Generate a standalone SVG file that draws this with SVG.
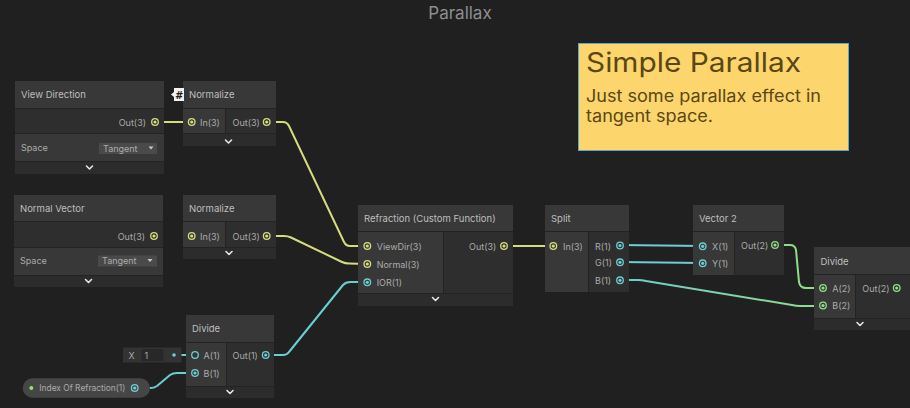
<svg xmlns="http://www.w3.org/2000/svg" width="910" height="408" viewBox="0 0 910 408">
<defs>
<style>
.hdr{fill:#383838}
.inc{fill:#383838}
.outc{fill:#2e2e2e}
.prop{fill:#383838}
.chev{fill:#2c2c2c}
.sep{fill:#232323}
.t{font-family:Inter,"Liberation Sans",sans-serif;font-size:9.5px;fill:#bebebe}
.p{font-family:Inter,"Liberation Sans",sans-serif;font-size:9px;fill:#ababab}
.cv{fill:none;stroke:#e6e6e6;stroke-width:1.6;stroke-linecap:round;stroke-linejoin:round}
.w{fill:none;stroke-width:2;stroke-linecap:round;stroke-linejoin:round}
.y{stroke:#d6db7e}
.c{stroke:#6ccdd2}
.g{stroke:#8fdd88}
.py{fill:none;stroke:#d6db7e;stroke-width:1.3}
.pc{fill:none;stroke:#6ccdd2;stroke-width:1.3}
.pg{fill:none;stroke:#8fdd88;stroke-width:1.3}
.dy{fill:#d6db7e}
.dc{fill:#6ccdd2}
.dg{fill:#8fdd88}
.dd{fill:#4a4a4a}
</style>
<linearGradient id="bg" gradientUnits="userSpaceOnUse" x1="620" y1="0" x2="823" y2="0">
<stop offset="0" stop-color="#6ccdd2"/>
<stop offset="1" stop-color="#8fdd88"/>
</linearGradient>
</defs>
<rect width="910" height="408" fill="#202020"/>
<text x="460" y="19" text-anchor="middle" font-family="Inter,'Liberation Sans',sans-serif" font-size="17" fill="#8e8e8e">Parallax</text>

<g id="connectors">
<path class="w y" d="M155,122 L192,122"/>
<path class="w y" d="M267,122 L283,122 Q287,122 289,126 L344,242 Q346,246 350,246 L367,246"/>
<path class="w y" d="M267,236 L284,236 Q288,236 291,237.5 L342,262 Q345,263.5 349,263.5 L367,264"/>
<path class="w c" d="M266,355 L283,355 Q287,355 289,352 L343,285 Q346,282 350,282 L367,282"/>
<path class="w y" d="M504,246 L553,246"/>
<path class="w c" d="M620,245 L703,246"/>
<path class="w c" d="M620,262 L703,263"/>
<path class="w" stroke="url(#bg)" d="M620,280 L638,280 Q642,280 646,281 L792,305 Q796,306 800,306 L823,306"/>
<path class="w g" d="M775,245 L790,245 Q795,245 796,250 L799,282 Q800,288 806,288 L823,288"/>
<path class="w c" d="M174,355 L195,355"/>
<path class="w c" d="M135,388 L150,388 Q154,388 157,386 L170,375 Q173,373 177,373 L195,373"/>
<path class="w g" d="M897,288 L912,288"/>
</g>

<g id="node-view-direction">
<rect x="15" y="81" width="149" height="93" class="sep"/>
<rect x="15" y="81" width="149" height="27" class="hdr"/>
<rect x="15" y="109" width="149" height="24" class="outc"/>
<rect x="15" y="134" width="149" height="27" class="prop"/>
<rect x="15" y="162" width="149" height="12" class="chev"/>
<text x="21" y="98" class="t">View Direction</text>
<text x="146" y="125.5" class="p" text-anchor="end">Out(3)</text>
<circle cx="155" cy="122" r="3.3" class="py"/><circle cx="155" cy="122" r="1.6" class="dy"/>
<text x="21" y="150.5" class="p">Space</text>
<rect x="99" y="143" width="58" height="11" class="dd"/>
<text x="103" y="151.5" class="p" fill="#c8c8c8">Tangent</text>
<path d="M148.5,146.5 L153.5,146.5 L151,149.5 Z" fill="#c8c8c8"/>
<path d="M86.5,166 L89.5,169 L92.5,166" class="cv"/>
</g>

<g id="node-normalize-1">
<rect x="183" y="81" width="93" height="65" class="sep"/>
<rect x="183" y="81" width="93" height="27" class="hdr"/>
<rect x="183" y="109" width="42" height="24" class="inc"/>
<rect x="226" y="109" width="50" height="24" class="outc"/>
<rect x="183" y="134" width="93" height="12" class="chev"/>
<text x="189" y="98" class="t">Normalize</text>
<circle cx="191.7" cy="122" r="3.3" class="py"/><circle cx="191.7" cy="122" r="1.6" class="dy"/>
<text x="200" y="125.5" class="p">In(3)</text>
<text x="232.5" y="125.5" class="p">Out(3)</text>
<circle cx="266.7" cy="122" r="3.3" class="py"/><circle cx="266.7" cy="122" r="1.6" class="dy"/>
<path d="M225.5,140 L228.5,143 L231.5,140" class="cv"/>
<path d="M174,88 L184,88 L184,101 L174,101 L174,97 L171,94.5 L174,92 Z" fill="#f2f2f2"/>
<text x="178.5" y="98.5" text-anchor="middle" font-family="'DejaVu Sans',sans-serif" font-size="10" font-weight="bold" font-style="italic" fill="#1e1e1e">#</text>
</g>

<g id="node-normal-vector">
<rect x="14" y="195" width="149" height="92" class="sep"/>
<rect x="14" y="195" width="149" height="26" class="hdr"/>
<rect x="14" y="222" width="149" height="25" class="outc"/>
<rect x="14" y="248" width="149" height="27" class="prop"/>
<rect x="14" y="276" width="149" height="11" class="chev"/>
<text x="20" y="211.5" class="t">Normal Vector</text>
<text x="145" y="239.5" class="p" text-anchor="end">Out(3)</text>
<circle cx="154" cy="236" r="3.3" class="py"/><circle cx="154" cy="236" r="1.6" class="dy"/>
<text x="20" y="264" class="p">Space</text>
<rect x="98" y="255.5" width="59" height="11" class="dd"/>
<text x="102" y="264" class="p" fill="#c8c8c8">Tangent</text>
<path d="M147.5,259 L152.5,259 L150,262 Z" fill="#c8c8c8"/>
<path d="M85.5,279.5 L88.5,282.5 L91.5,279.5" class="cv"/>
</g>

<g id="node-normalize-2">
<rect x="183" y="195" width="93" height="64" class="sep"/>
<rect x="183" y="195" width="93" height="26" class="hdr"/>
<rect x="183" y="222" width="42" height="25" class="inc"/>
<rect x="226" y="222" width="50" height="25" class="outc"/>
<rect x="183" y="248" width="93" height="11" class="chev"/>
<text x="189" y="211.5" class="t">Normalize</text>
<circle cx="191.7" cy="236" r="3.3" class="py"/><circle cx="191.7" cy="236" r="1.6" class="dy"/>
<text x="200" y="239.5" class="p">In(3)</text>
<text x="232.5" y="239.5" class="p">Out(3)</text>
<circle cx="266.7" cy="236" r="3.3" class="py"/><circle cx="266.7" cy="236" r="1.6" class="dy"/>
<path d="M226,251.5 L229,254.5 L232,251.5" class="cv"/>
</g>

<g id="node-divide-1">
<rect x="186" y="315" width="88" height="83" class="sep"/>
<rect x="186" y="315" width="88" height="27" class="hdr"/>
<rect x="186" y="343" width="40" height="43" class="inc"/>
<rect x="227" y="343" width="47" height="43" class="outc"/>
<rect x="186" y="387" width="88" height="11" class="chev"/>
<text x="192" y="332" class="t">Divide</text>
<circle cx="195" cy="355" r="3.3" fill="none" stroke="#6ccdd2" stroke-width="1.3"/>
<text x="203.5" y="358.5" class="p">A(1)</text>
<circle cx="195" cy="373" r="3.3" class="pc"/><circle cx="195" cy="373" r="1.6" class="dc"/>
<text x="203.5" y="376.5" class="p">B(1)</text>
<text x="232.5" y="358.5" class="p">Out(1)</text>
<circle cx="265.7" cy="355" r="3.3" class="pc"/><circle cx="265.7" cy="355" r="1.6" class="dc"/>
<path d="M227,390.5 L230,393.5 L233,390.5" class="cv"/>
</g>

<g id="inline-a">
<rect x="123" y="347.5" width="58.5" height="15" fill="#333333"/>
<text x="128.5" y="359" class="p" font-size="10" fill="#bdbdbd">X</text>
<rect x="141.5" y="349" width="22" height="12" rx="1.5" fill="#282828"/>
<text x="144.5" y="359" class="p" font-size="10" fill="#d0d0d0">1</text>
<circle cx="174" cy="355" r="1.8" class="dc"/>
</g>

<g id="node-index-of-refraction">
<rect x="22.7" y="378.3" width="127.3" height="19.4" rx="9.7" fill="#464646"/>
<circle cx="31.3" cy="388" r="2" fill="#8ee36f"/>
<text x="39.3" y="391.3" class="p" fill="#b8b8b8" textLength="86" lengthAdjust="spacingAndGlyphs">Index Of Refraction(1)</text>
<circle cx="134.7" cy="388" r="3.3" class="pc"/><circle cx="134.7" cy="388" r="1.6" class="dc"/>
</g>

<g id="node-refraction">
<rect x="358" y="205" width="155" height="101" class="sep"/>
<rect x="358" y="205" width="155" height="26" class="hdr"/>
<rect x="358" y="232" width="85" height="61" class="inc"/>
<rect x="444" y="232" width="69" height="61" class="outc"/>
<rect x="358" y="294" width="155" height="12" class="chev"/>
<text x="364" y="221.5" class="t">Refraction (Custom Function)</text>
<circle cx="367.3" cy="246" r="3.3" class="py"/><circle cx="367.3" cy="246" r="1.6" class="dy"/>
<text x="376.7" y="249.5" class="p">ViewDir(3)</text>
<circle cx="367.3" cy="264" r="3.3" class="py"/><circle cx="367.3" cy="264" r="1.6" class="dy"/>
<text x="376.7" y="267.5" class="p">Normal(3)</text>
<circle cx="367.3" cy="282.3" r="3.3" class="pc"/><circle cx="367.3" cy="282.3" r="1.6" class="dc"/>
<text x="376.7" y="285.8" class="p">IOR(1)</text>
<text x="469" y="249.5" class="p">Out(3)</text>
<circle cx="504" cy="246" r="3.3" class="py"/><circle cx="504" cy="246" r="1.6" class="dy"/>
<path d="M432.5,297.5 L435.5,300.5 L438.5,297.5" class="cv"/>
</g>

<g id="node-split">
<rect x="545" y="205" width="84" height="87" class="sep"/>
<rect x="545" y="205" width="84" height="26" class="hdr"/>
<rect x="545" y="232" width="43" height="60" class="inc"/>
<rect x="589" y="232" width="40" height="60" class="outc"/>
<text x="551" y="221.5" class="t">Split</text>
<circle cx="553.3" cy="246" r="3.3" class="py"/><circle cx="553.3" cy="246" r="1.6" class="dy"/>
<text x="563" y="249.5" class="p">In(3)</text>
<text x="595" y="249.5" class="p">R(1)</text>
<circle cx="620" cy="245.5" r="3.3" class="pc"/><circle cx="620" cy="245.5" r="1.6" class="dc"/>
<text x="595" y="266" class="p">G(1)</text>
<circle cx="620" cy="262.3" r="3.3" class="pc"/><circle cx="620" cy="262.3" r="1.6" class="dc"/>
<text x="595" y="284" class="p">B(1)</text>
<circle cx="620" cy="280.3" r="3.3" class="pc"/><circle cx="620" cy="280.3" r="1.6" class="dc"/>
</g>

<g id="node-vector2">
<rect x="693" y="205" width="91" height="70" class="sep"/>
<rect x="693" y="205" width="91" height="26" class="hdr"/>
<rect x="693" y="232" width="41" height="43" class="inc"/>
<rect x="735" y="232" width="49" height="43" class="outc"/>
<text x="699" y="221.5" class="t">Vector 2</text>
<circle cx="702.7" cy="246.3" r="3.3" class="pc"/><circle cx="702.7" cy="246.3" r="1.6" class="dc"/>
<text x="712" y="249.8" class="p">X(1)</text>
<circle cx="702.7" cy="263.3" r="3.3" class="pc"/><circle cx="702.7" cy="263.3" r="1.6" class="dc"/>
<text x="712" y="266.8" class="p">Y(1)</text>
<text x="741" y="248.5" class="p">Out(2)</text>
<circle cx="775" cy="245" r="3.3" class="pg"/><circle cx="775" cy="245" r="1.6" class="dg"/>
</g>

<g id="node-divide-2">
<rect x="814" y="247" width="100" height="83" class="sep"/>
<rect x="814" y="247" width="100" height="27" class="hdr"/>
<rect x="814" y="275" width="41" height="43" class="inc"/>
<rect x="856" y="275" width="58" height="43" class="outc"/>
<rect x="814" y="319" width="100" height="11" class="chev"/>
<text x="820.5" y="264.5" class="t">Divide</text>
<circle cx="823" cy="288" r="3.3" class="pg"/><circle cx="823" cy="288" r="1.6" class="dg"/>
<text x="832.3" y="291.5" class="p">A(2)</text>
<circle cx="823" cy="305.5" r="3.3" class="pg"/><circle cx="823" cy="305.5" r="1.6" class="dg"/>
<text x="832.3" y="309" class="p">B(2)</text>
<text x="862.3" y="291.5" class="p">Out(2)</text>
<circle cx="896.7" cy="288" r="3.3" class="pg"/><circle cx="896.7" cy="288" r="1.6" class="dg"/>
<path d="M857,322.5 L860,325.5 L863,322.5" class="cv"/>
</g>

<g id="sticky-note">
<rect x="578.5" y="43.5" width="270" height="107" fill="#fcd56d" stroke="#5aa9d4" stroke-width="1"/>
<text x="586" y="72.3" font-family="Inter,'Liberation Sans',sans-serif" font-size="27" fill="#5a4713" textLength="215" lengthAdjust="spacingAndGlyphs">Simple Parallax</text>
<text x="586" y="101.7" font-family="Inter,'Liberation Sans',sans-serif" font-size="17" fill="#5a4713" textLength="235" lengthAdjust="spacingAndGlyphs">Just some parallax effect in</text>
<text x="586" y="122" font-family="Inter,'Liberation Sans',sans-serif" font-size="17" fill="#5a4713" textLength="127" lengthAdjust="spacingAndGlyphs">tangent space.</text>
</g>
</svg>
